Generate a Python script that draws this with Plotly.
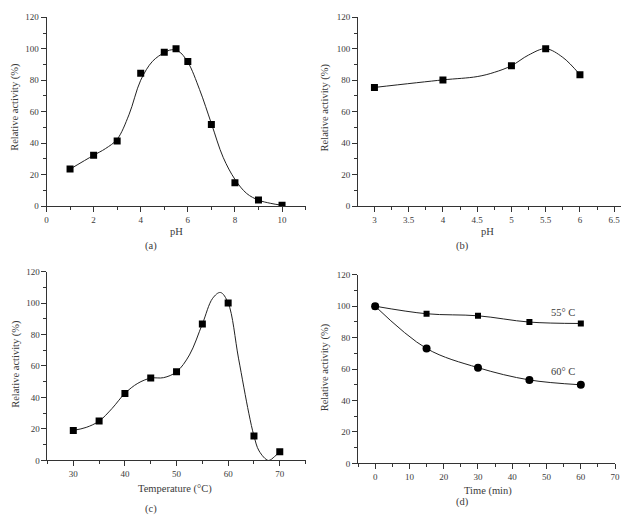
import plotly.graph_objects as go

W, H = 630, 525

# ---------- data ----------
# (a) pH profile
a_ph = [1, 2, 3, 4, 5, 5.5, 6, 7, 8, 9, 10]
a_act = [23.5, 32.3, 41.3, 84.4, 97.7, 100, 91.9, 51.9, 14.8, 3.8, 0.5]
a_fit_x = [1, 2, 2.5, 3, 3.5, 4, 4.5, 5, 5.3, 5.6, 6, 6.5, 7, 7.5, 8, 8.5, 9, 9.5, 10]
a_fit_y = [23.5, 32.3, 36.5, 42.5, 58, 80, 92, 97.5, 99.3, 98.5, 91.5, 74, 52.5, 31, 17, 8, 3.8, 1.8, 0.5]

# (b) pH stability
b_ph = [3, 4, 5, 5.5, 6]
b_act = [75.4, 80.2, 89.2, 100, 83.5]
b_fit_x = [3, 4, 4.5, 4.75, 5, 5.25, 5.5, 5.75, 6]
b_fit_y = [75.4, 80.2, 82.3, 85, 89.2, 96, 100, 94.5, 83.5]

# (c) temperature profile
c_temp = [30, 35, 40, 45, 50, 55, 60, 65, 70]
c_act = [19.1, 25, 42.6, 52.4, 56.3, 86.7, 100, 15.6, 5.6]
c_fit_x = [30, 32.5, 35, 37.5, 40, 42.5, 45, 47.5, 50, 52.5, 55, 57, 58.5, 60, 62, 64, 65, 66, 67.8, 69, 70]
c_fit_y = [19.1, 21, 25, 33, 42.6, 49, 52.3, 52.6, 56.3, 67, 86.7, 103, 106.7, 100, 65, 30, 15.6, 6, 0, 2.5, 5.6]

# (d) thermal stability
d_time = [0, 15, 30, 45, 60]
d_55 = [100, 95.2, 93.9, 89.9, 89.0]
d_60 = [100, 73.1, 60.9, 53.1, 50.0]

# ---------- layout helpers ----------
def px_x(px):
    return px / W

def px_y(py):
    return 1 - py / H

FONT = "Liberation Serif"
TXTCOL = "#3a3a3a"
TICKFONT = dict(family=FONT, size=9, color=TXTCOL)
LINECOL = "#333"

def xaxis(domain, rng, dtick, minor, anchor):
    return dict(domain=domain, range=rng, anchor=anchor, showgrid=False, zeroline=False,
                showline=True, linecolor=LINECOL, linewidth=1, ticks="outside", ticklen=5,
                tickcolor=LINECOL, tickwidth=1, dtick=dtick, tickfont=TICKFONT,
                minor=dict(dtick=minor, ticks="outside", ticklen=3, tickcolor=LINECOL, showgrid=False))

def yaxis(domain, anchor):
    return dict(domain=domain, range=[0, 120], anchor=anchor, showgrid=False, zeroline=False,
                showline=True, linecolor=LINECOL, linewidth=1, ticks="outside", ticklen=5,
                tickcolor=LINECOL, tickwidth=1, dtick=20, tickfont=TICKFONT,
                minor=dict(dtick=10, ticks="outside", ticklen=3, tickcolor=LINECOL, showgrid=False))

fig = go.Figure()

line_style = dict(color="#222", width=1, shape="spline", smoothing=1)
sq = dict(symbol="square", size=7, color="black")

# (a)
fig.add_trace(go.Scatter(x=a_fit_x, y=a_fit_y, mode="lines", line=line_style, xaxis="x", yaxis="y", hoverinfo="skip"))
fig.add_trace(go.Scatter(x=a_ph, y=a_act, mode="markers", marker=sq, xaxis="x", yaxis="y"))
# (b)
fig.add_trace(go.Scatter(x=b_fit_x, y=b_fit_y, mode="lines", line=line_style, xaxis="x2", yaxis="y2", hoverinfo="skip"))
fig.add_trace(go.Scatter(x=b_ph, y=b_act, mode="markers", marker=sq, xaxis="x2", yaxis="y2"))
# (c)
fig.add_trace(go.Scatter(x=c_fit_x, y=c_fit_y, mode="lines", line=line_style, xaxis="x3", yaxis="y3", hoverinfo="skip"))
fig.add_trace(go.Scatter(x=c_temp, y=c_act, mode="markers", marker=sq, xaxis="x3", yaxis="y3"))
# (d)
fig.add_trace(go.Scatter(x=d_time, y=d_55, mode="lines+markers", line=line_style,
                         marker=dict(symbol="square", size=6, color="black"), xaxis="x4", yaxis="y4"))
fig.add_trace(go.Scatter(x=d_time, y=d_60, mode="lines+markers", line=line_style,
                         marker=dict(symbol="circle", size=8, color="black"), xaxis="x4", yaxis="y4"))

dom_a_x = [px_x(45), px_x(307)]
dom_b_x = [px_x(360), px_x(626)]
dom_c_x = [px_x(46), px_x(307)]
dom_d_x = [px_x(360), px_x(620)]
dom_top_y = [px_y(205), px_y(12.5)]
dom_c_y = [px_y(464.3), px_y(271.7)]
dom_d_y = [px_y(467.3), px_y(275)]

fig.update_layout(
    width=W, height=H, margin=dict(l=0, r=0, t=0, b=0),
    paper_bgcolor="white", plot_bgcolor="white", showlegend=False,
    font=dict(family=FONT, size=10, color=TXTCOL),
    xaxis=xaxis(dom_a_x, [0, 11], 2, 1, "y"),
    yaxis=yaxis(dom_top_y, "x"),
    xaxis2=xaxis(dom_b_x, [2.76, 6.6], 0.5, 0.25, "y2"),
    yaxis2=yaxis(dom_top_y, "x2"),
    xaxis3=xaxis(dom_c_x, [25, 75], 10, 5, "y3"),
    yaxis3=yaxis(dom_c_y, "x3"),
    xaxis4=xaxis(dom_d_x, [-5, 70], 10, 5, "y4"),
    yaxis4=yaxis(dom_d_y, "x4"),
)

ann = []
def text(x, y, s, size=10.5, angle=0):
    ann.append(dict(x=px_x(x), y=px_y(y), xref="paper", yref="paper", text=s, showarrow=False,
                    xanchor="center", yanchor="middle", textangle=angle,
                    font=dict(family=FONT, size=size, color=TXTCOL)))

# y titles
text(13, 104, "Relative activity (%)", 10.5, -90)
text(327, 104, "Relative activity (%)", 10.5, -90)
text(14, 366, "Relative activity (%)", 10.5, -90)
text(327, 369, "Relative activity (%)", 10.5, -90)
# x titles
text(176, 231, "pH")
text(491, 231, "pH")
text(175, 493, "Temperature (°C)")
text(491, 495, "Time (min)")
# captions
text(151, 246, "(a)")
text(466, 246, "(b)")
text(151, 514, "(c)")
text(466, 507, "(d)")

fig.update_layout(annotations=ann)

# series labels in panel (d), placed in data coordinates
fig.add_annotation(x=54.7, y=96.3, xref="x4", yref="y4", text="55° C", showarrow=False,
                   font=dict(family=FONT, size=10.5, color=TXTCOL))
fig.add_annotation(x=54.7, y=58.3, xref="x4", yref="y4", text="60° C", showarrow=False,
                   font=dict(family=FONT, size=10.5, color=TXTCOL))

fig.write_html("out.html", config={"displayModeBar": False},
               post_script="document.body.style.margin='0';document.body.style.overflow='hidden';")
